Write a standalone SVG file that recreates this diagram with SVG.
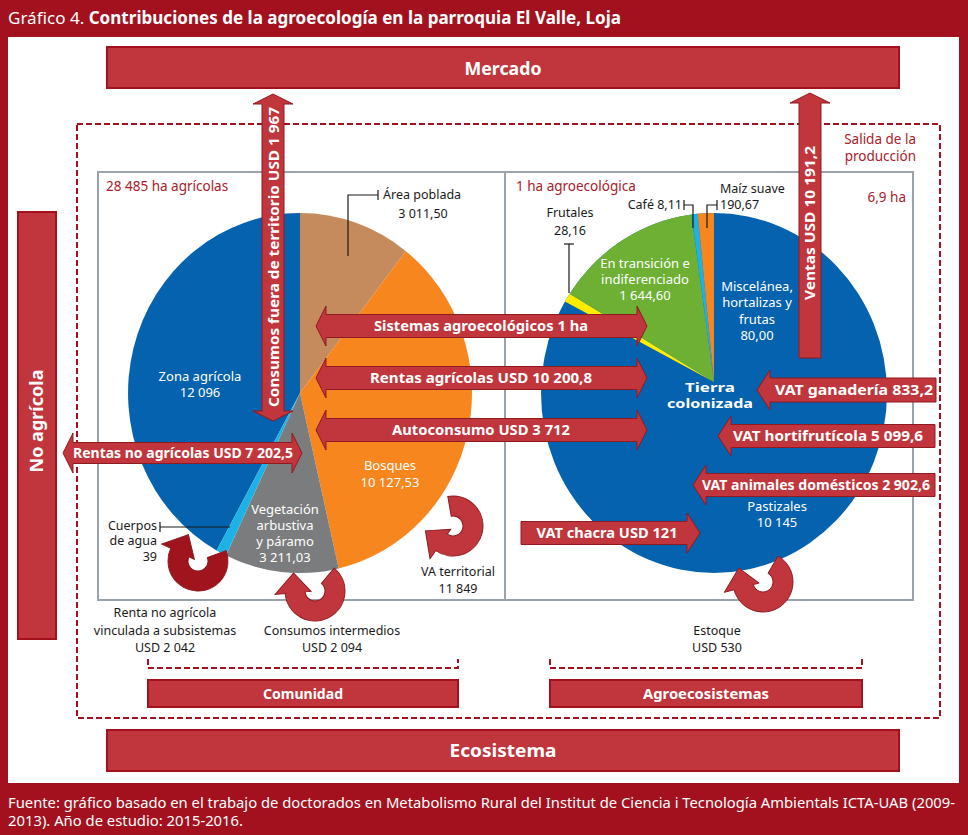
<svg xmlns="http://www.w3.org/2000/svg" width="968" height="835" viewBox="0 0 968 835">
<defs>
<style>
text{font-family:"Noto Sans","Liberation Sans",sans-serif}
.t{font-size:12.5px;fill:#1a1a1a;text-anchor:middle}
.w{font-size:13px;fill:#ffffff;text-anchor:middle}
.r{font-size:13.5px;fill:#a9202a}
.al{font-size:14.5px;font-weight:bold;fill:#ffffff;text-anchor:middle}
.bt{font-weight:bold;fill:#ffffff;text-anchor:middle}
.s{text-anchor:start}
.e{text-anchor:end}
.bar{fill:#c0363c;stroke:#a4111e;stroke-width:2}
.arr{fill:#c0363c;stroke:#8e1a22;stroke-width:1}
.ld{fill:none;stroke:#1a1a1a;stroke-width:1.2}
.dash{fill:none;stroke:#a4111e;stroke-width:2;stroke-dasharray:6 3}
.box{fill:none;stroke:#9aa3aa;stroke-width:2}
</style>
<path id="curl" d="M15,-25.98 A30,30 0 1 1 -28.98,7.76 L-38.64,10.35 L-24.25,-14 L-3.86,1.04 L-9.66,2.59 A10,10 0 1 0 5,-8.66 Z"/>
</defs>

<rect x="0" y="0" width="968" height="835" fill="#a4111e"/>
<rect x="8" y="37" width="951" height="746" fill="#ffffff"/>
<text x="8" y="24" font-size="17" fill="#ffffff" textLength="613" lengthAdjust="spacingAndGlyphs">Gráfico 4. <tspan font-weight="bold">Contribuciones de la agroecología en la parroquia El Valle, Loja</tspan></text>
<text x="8" y="808" font-size="14" fill="#ffffff" textLength="947" lengthAdjust="spacingAndGlyphs">Fuente: gráfico basado en el trabajo de doctorados en Metabolismo Rural del Institut de Ciencia i Tecnología Ambientals ICTA-UAB (2009-</text>
<text x="8" y="826" font-size="14" fill="#ffffff" textLength="235" lengthAdjust="spacingAndGlyphs">2013). Año de estudio: 2015-2016.</text>

<g id="mercado">
<rect class="bar" x="107" y="47" width="792" height="41"/>
<text class="bt" x="503" y="75" font-size="18" textLength="77" lengthAdjust="spacingAndGlyphs">Mercado</text>
</g>
<g id="ecosistema">
<rect class="bar" x="107" y="730" width="792" height="41"/>
<text class="bt" x="503" y="757" font-size="18" textLength="107" lengthAdjust="spacingAndGlyphs">Ecosistema</text>
</g>
<g id="no-agricola">
<rect class="bar" x="18" y="212" width="38" height="427"/>
<text class="bt" x="43" y="421" font-size="17" transform="rotate(-90 43 421)" textLength="103" lengthAdjust="spacingAndGlyphs">No agrícola</text>
</g>

<g id="sistema">
<rect class="dash" x="77" y="124" width="863" height="594"/>
<text class="r e" x="916" y="144">Salida de la</text>
<text class="r e" x="916" y="161">producción</text>
</g>

<g id="comunidad">
<path class="dash" d="M148,659 V668 H458 V659"/>
<rect class="bar" x="148" y="680" width="310" height="27"/>
<text class="bt" x="303" y="699" font-size="13.5" textLength="80" lengthAdjust="spacingAndGlyphs">Comunidad</text>
</g>
<g id="agroecosistemas">
<path class="dash" d="M550,659 V668 H862 V659"/>
<rect class="bar" x="550" y="680" width="312" height="27"/>
<text class="bt" x="706" y="699" font-size="13.5" textLength="126" lengthAdjust="spacingAndGlyphs">Agroecosistemas</text>
</g>

<g id="territorio">
<rect class="box" x="98" y="172" width="407" height="428"/>
<text class="r" x="106" y="191">28 485 ha agrícolas</text>
<path d="M300,393 L216.6,550.4 A172,180 0 0 1 300,213 Z" fill="#0562ae"/>
<path d="M300,393 L300,213 A172,180 0 0 1 405.9,251.2 Z" fill="#c68b5c"/>
<path d="M300,393 L405.9,251.2 A172,180 0 0 1 338.7,568.4 Z" fill="#f7861f"/>
<path d="M300,393 L338.7,568.4 A172,180 0 0 1 226,555.5 Z" fill="#7b7c7e"/>
<path d="M300,393 L226,555.5 A172,180 0 0 1 216.6,550.4 Z" fill="#1eb1e6"/>
<text class="t s" x="383" y="199">Área poblada</text>
<text class="t" x="423" y="218">3 011,50</text>
<polyline class="ld" points="348,256 348,195 378,195"/>
<line class="ld" x1="378" y1="190" x2="378" y2="200"/>
<text class="w" x="200" y="381">Zona agrícola</text>
<text class="w" x="200" y="397">12 096</text>
<text class="w" x="390" y="470">Bosques</text>
<text class="w" x="390" y="487">10 127,53</text>
<text class="w" x="285" y="514">Vegetación</text>
<text class="w" x="285" y="530">arbustiva</text>
<text class="w" x="285" y="546">y páramo</text>
<text class="w" x="285" y="562">3 211,03</text>
<text class="t e" x="157" y="530">Cuerpos</text>
<text class="t e" x="157" y="545">de agua</text>
<text class="t e" x="157" y="561">39</text>
<line class="ld" x1="160" y1="527" x2="230" y2="527"/>
<line class="ld" x1="160" y1="522" x2="160" y2="532"/>
<text class="t" x="458" y="576">VA territorial</text>
<text class="t" x="458" y="593">11 849</text>
<text class="t" x="165" y="617">Renta no agrícola</text>
<text class="t" x="165" y="635">vinculada a subsistemas</text>
<text class="t" x="165" y="652">USD 2 042</text>
<text class="t" x="332" y="635">Consumos intermedios</text>
<text class="t" x="332" y="652">USD 2 094</text>
</g>

<g id="finca">
<rect class="box" x="505" y="172" width="408" height="428"/>
<text class="r" x="516" y="191">1 ha agroecológica</text>
<text class="r e" x="906" y="202">6,9 ha</text>
<ellipse cx="714" cy="393" rx="173" ry="180" fill="#0562ae"/>
<path d="M714,382 L564.9,301.6 A173,180 0 0 1 569.7,293.7 Z" fill="#ffed00"/>
<path d="M714,382 L569.7,293.7 A173,180 0 0 1 691.4,214.5 Z" fill="#6db033"/>
<path d="M714,382 L691.4,214.5 A173,180 0 0 1 697.7,213.8 Z" fill="#1eb1e6"/>
<path d="M714,382 L697.7,213.8 A173,180 0 0 1 714,213 Z" fill="#f7861f"/>
<text class="t" x="570" y="217">Frutales</text>
<text class="t" x="570" y="235">28,16</text>
<line class="ld" x1="569" y1="244" x2="569" y2="293"/>
<line class="ld" x1="564" y1="244" x2="574" y2="244"/>
<text class="t e" x="682" y="209">Café 8,11</text>
<polyline class="ld" points="684,205 693,205 693,228"/>
<line class="ld" x1="684" y1="200" x2="684" y2="210"/>
<text class="t s" x="720" y="193">Maíz suave</text>
<text class="t s" x="720" y="209">190,67</text>
<polyline class="ld" points="717,205 707,205 707,228"/>
<line class="ld" x1="717" y1="200" x2="717" y2="210"/>
<text class="w" x="645" y="268" font-size="12">En transición e</text>
<text class="w" x="645" y="284" font-size="12">indiferenciado</text>
<text class="w" x="645" y="300" font-size="12">1 644,60</text>
<text class="w" x="757" y="291">Miscelánea,</text>
<text class="w" x="757" y="307">hortalizas y</text>
<text class="w" x="757" y="324">frutas</text>
<text class="w" x="757" y="340">80,00</text>
<text class="w" x="710" y="392" font-size="17" font-weight="bold" textLength="50" lengthAdjust="spacingAndGlyphs">Tierra</text>
<text class="w" x="710" y="408" font-size="17" font-weight="bold" textLength="86" lengthAdjust="spacingAndGlyphs">colonizada</text>
<text class="w" x="777" y="511">Pastizales</text>
<text class="w" x="777" y="527">10 145</text>
<text class="t" x="717" y="635">Estoque</text>
<text class="t" x="717" y="652">USD 530</text>
</g>

<g id="connectors">
<use href="#curl" transform="translate(198,561) rotate(40)" fill="#a0141e" stroke="#8e1a22" stroke-width="1"/>
<use href="#curl" transform="translate(315,591) rotate(10)" class="arr"/>
<use href="#curl" transform="translate(453,526) rotate(-40)" class="arr"/>
<use href="#curl" transform="translate(763,582)" class="arr"/>

<polygon class="arr" points="273,94 293,104 284,104 284,411 293,411 273,421 253,411 262,411 262,104 253,104"/>
<text class="al" x="279" y="257" transform="rotate(-90 279 257)" textLength="300" lengthAdjust="spacingAndGlyphs">Consumos fuera de territorio USD 1 967</text>

<polygon class="arr" points="810,93 830,103 821,103 821,358 799,358 799,103 790,103"/>
<text class="al" x="815" y="223" transform="rotate(-90 815 223)" textLength="154" lengthAdjust="spacingAndGlyphs">Ventas USD 10 191,2</text>

<polygon class="arr" points="316,326 326,306 326,314.5 637,314.5 637,306 647,326 637,346 637,337.5 326,337.5 326,346"/>
<text class="al" x="481" y="331" textLength="214" lengthAdjust="spacingAndGlyphs">Sistemas agroecológicos 1 ha</text>
<polygon class="arr" points="316,378 326,358 326,366.5 637,366.5 637,358 647,378 637,398 637,389.5 326,389.5 326,398"/>
<text class="al" x="481" y="383" textLength="222" lengthAdjust="spacingAndGlyphs">Rentas agrícolas USD 10 200,8</text>
<polygon class="arr" points="316,430 326,410 326,418.5 637,418.5 637,410 647,430 637,450 637,441.5 326,441.5 326,450"/>
<text class="al" x="481" y="435" textLength="178" lengthAdjust="spacingAndGlyphs">Autoconsumo USD 3 712</text>
<polygon class="arr" points="63,453 73,433 73,442.5 292,442.5 292,433 302,453 292,473 292,463.5 73,463.5 73,473"/>
<text class="al" x="183" y="458" textLength="220" lengthAdjust="spacingAndGlyphs">Rentas no agrícolas USD 7 202,5</text>

<polygon class="arr" points="757,390 770,370 770,378 936,378 936,402 770,402 770,410"/>
<text class="al" x="854" y="395" textLength="158" lengthAdjust="spacingAndGlyphs">VAT ganadería 833,2</text>
<polygon class="arr" points="718,436 731,416 731,424.5 935,424.5 935,447.5 731,447.5 731,456"/>
<text class="al" x="828" y="441" textLength="190" lengthAdjust="spacingAndGlyphs">VAT hortifrutícola 5 099,6</text>
<polygon class="arr" points="693,485 706,465 706,473.5 935,473.5 935,496.5 706,496.5 706,505"/>
<text class="al" x="816" y="490" textLength="228" lengthAdjust="spacingAndGlyphs">VAT animales domésticos 2 902,6</text>
<polygon class="arr" points="521,521.5 687,521.5 687,513 700,533 687,553 687,544.5 521,544.5"/>
<text class="al" x="607" y="538" textLength="141" lengthAdjust="spacingAndGlyphs">VAT chacra USD 121</text>
</g>
</svg>
